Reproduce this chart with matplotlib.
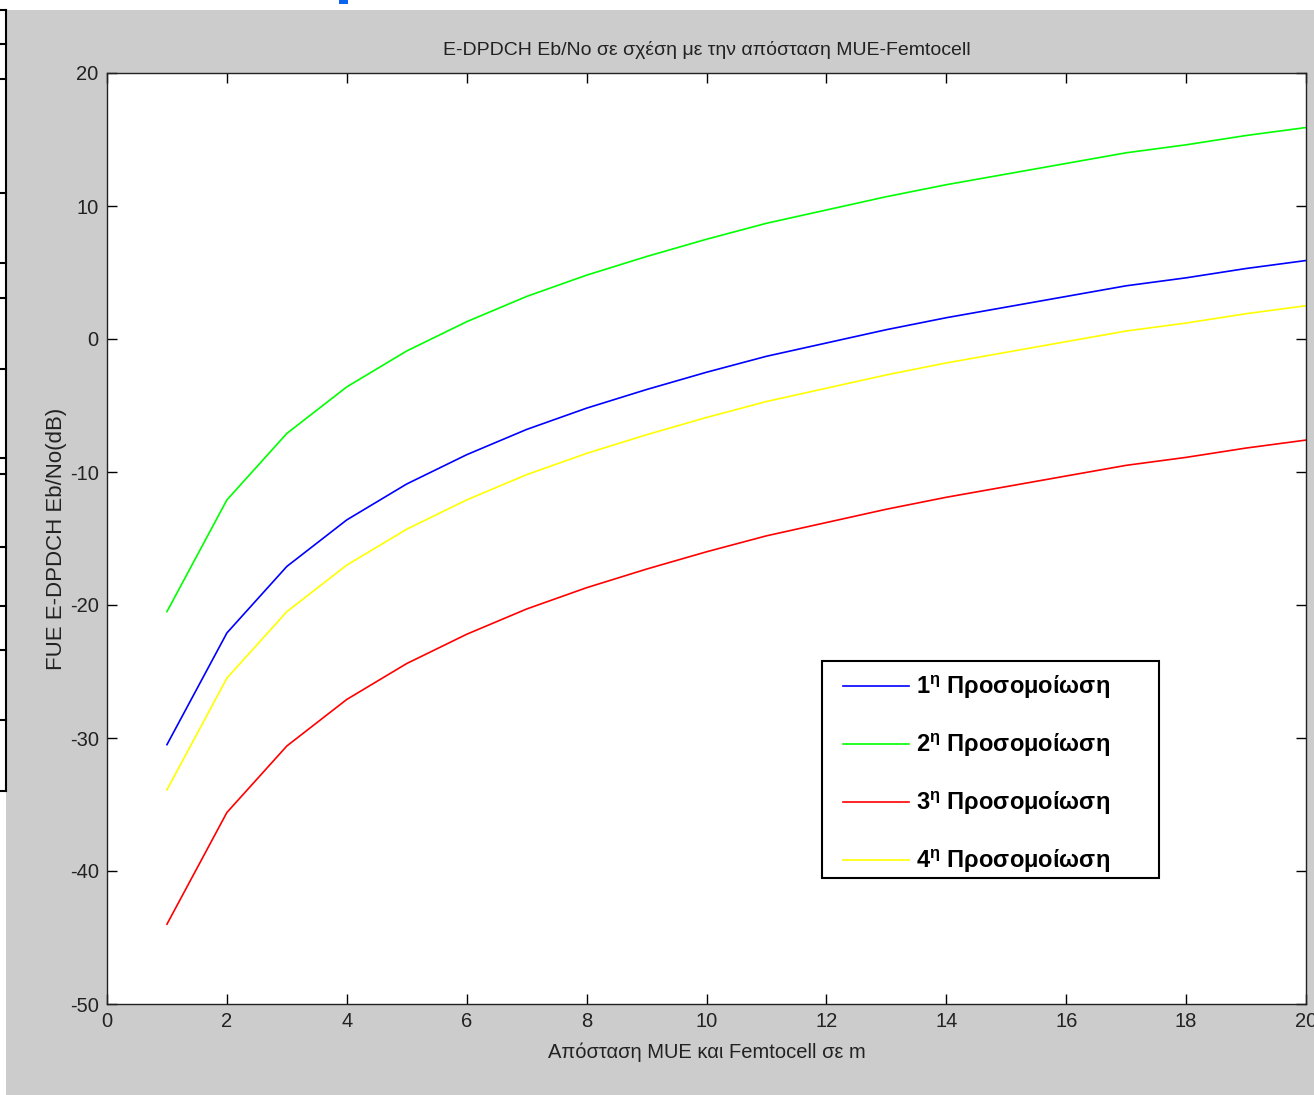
import numpy as np
import matplotlib
matplotlib.use("Agg")
import matplotlib.pyplot as plt
from matplotlib.lines import Line2D
from matplotlib.patches import Rectangle

plt.rcParams['font.family'] = ['Liberation Sans', 'DejaVu Sans']
plt.rcParams['mathtext.fontset'] = 'custom'
plt.rcParams['mathtext.bf'] = 'Liberation Sans:bold'
plt.rcParams['mathtext.rm'] = 'Liberation Sans'
plt.rcParams['axes.unicode_minus'] = False

# distance MUE - Femtocell (m)
distance = list(range(1, 21))

sim1 = [-30.5, -22.1, -17.1, -13.6, -10.9, -8.7, -6.8, -5.2, -3.8, -2.5,
        -1.3, -0.3, 0.7, 1.6, 2.4, 3.2, 4.0, 4.6, 5.3, 5.9]
sim2 = [-20.5, -12.1, -7.1, -3.6, -0.9, 1.3, 3.2, 4.8, 6.2, 7.5,
        8.7, 9.7, 10.7, 11.6, 12.4, 13.2, 14.0, 14.6, 15.3, 15.9]
sim3 = [-44.0, -35.6, -30.6, -27.1, -24.4, -22.2, -20.3, -18.7, -17.3, -16.0,
        -14.8, -13.8, -12.8, -11.9, -11.1, -10.3, -9.5, -8.9, -8.2, -7.6]
sim4 = [-33.9, -25.5, -20.5, -17.0, -14.3, -12.1, -10.2, -8.6, -7.2, -5.9,
        -4.7, -3.7, -2.7, -1.8, -1.0, -0.2, 0.6, 1.2, 1.9, 2.5]

labels = ["1$^{\\mathbf{η}}$ Προσομοίωση", "2$^{\\mathbf{η}}$ Προσομοίωση",
          "3$^{\\mathbf{η}}$ Προσομοίωση", "4$^{\\mathbf{η}}$ Προσομοίωση"]
colors = ['#0000ff', '#00ff00', '#ff0000', '#ffff00']

W, H = 1314, 1095
fig = plt.figure(figsize=(W / 100, H / 100), dpi=100, facecolor='white')

# grey figure area (screenshot has a white margin top/left)
fig.patches.append(Rectangle((6 / W, 0), 1 - 6 / W, 1 - 10 / H, transform=fig.transFigure,
                             facecolor='#cccccc', edgecolor='none', zorder=-10))
# leftover window border on the left edge
fig.lines.append(Line2D([6 / W, 6 / W], [1 - 10 / H, 1 - 791 / H], transform=fig.transFigure,
                        color='black', lw=1.5, zorder=-5))
for yy in [10, 44, 79, 193, 263, 298, 369, 458, 474, 547, 606, 650, 720, 791]:
    fig.lines.append(Line2D([0, 6 / W], [1 - yy / H, 1 - yy / H], transform=fig.transFigure,
                            color='black', lw=1.5, zorder=-5))
fig.patches.append(Rectangle((339 / W, 1 - 4 / H), 9 / W, 4 / H, transform=fig.transFigure,
                             facecolor='#0a64f0', edgecolor='none', zorder=-5))

ax = fig.add_axes([107 / W, 91 / H, 1199 / W, 931 / H])
ax.set_facecolor('white')

for ys, c, lab in zip([sim1, sim2, sim3, sim4], colors, labels):
    ax.plot(distance, ys, color=c, lw=1.2, label=lab)

ax.set_xlim(0, 20)
ax.set_ylim(-50, 20)
ax.set_xticks(np.arange(0, 21, 2))
ax.set_yticks(np.arange(-50, 21, 10))
ax.tick_params(direction='in', length=7, width=1, top=True, right=True,
               labelsize=14.5, labelcolor='#222222', pad=6)
for s in ax.spines.values():
    s.set_linewidth(1.0)
    s.set_color('#222222')

ax.set_title("E-DPDCH Eb/No σε σχέση με την απόσταση MUE-Femtocell",
             fontsize=14, color='#222222', pad=13)
ax.set_xlabel("Απόσταση MUE και Femtocell σε m", fontsize=14.5, color='#222222', labelpad=8)
ax.set_ylabel("FUE E-DPDCH Eb/No(dB)", fontsize=16, color='#222222', labelpad=2)

# legend box drawn separately (MATLAB style box with wide padding)
ax.add_patch(Rectangle((822 / W, 1 - 878 / H), 337 / W, 217 / H, transform=fig.transFigure,
                       facecolor='white', edgecolor='black', lw=1.5, zorder=4))
leg = ax.legend(loc='upper left', bbox_to_anchor=(843 / W, 1 - 673 / H),
                bbox_transform=fig.transFigure, borderaxespad=0, borderpad=0,
                prop={'weight': 'bold', 'size': 17}, handlelength=2.8,
                labelspacing=1.28, handletextpad=0.3, frameon=False)
leg.set_zorder(5)

fig.savefig("out.png", dpi=100, facecolor=fig.get_facecolor())
